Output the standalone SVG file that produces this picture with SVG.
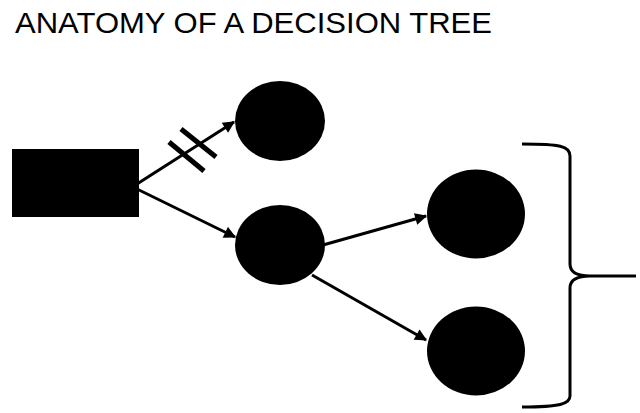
<svg xmlns="http://www.w3.org/2000/svg" width="640" height="413" viewBox="0 0 640 413">
<style>
.node{fill:#000}
.conn{stroke:#000;stroke-width:3;fill:none}
.title{font-family:"Liberation Sans",Arial,sans-serif;font-size:30px;fill:#000}
</style>
<defs>
<marker id="ah" viewBox="0 0 10 10" refX="9" refY="5" markerWidth="4.5" markerHeight="4" orient="auto" markerUnits="strokeWidth">
<path d="M0,0 L10,5 L0,10 z" fill="#000"/>
</marker>
</defs>
<rect width="640" height="413" fill="#fff"/>
<text class="title" x="15" y="33" textLength="477" lengthAdjust="spacingAndGlyphs">ANATOMY OF A DECISION TREE</text>
<g id="connectors">
<line class="conn" x1="137" y1="184" x2="234" y2="122" marker-end="url(#ah)"/>
<line class="conn" x1="137" y1="189" x2="235" y2="237" marker-end="url(#ah)"/>
<line class="conn" x1="323" y1="245" x2="426" y2="216" marker-end="url(#ah)"/>
<line class="conn" x1="312" y1="275" x2="426" y2="340" marker-end="url(#ah)"/>
<line x1="169" y1="142" x2="204" y2="171" stroke="#000" stroke-width="5"/>
<line x1="181" y1="129" x2="216" y2="157" stroke="#000" stroke-width="5"/>
</g>
<g id="root"><rect class="node" x="12" y="149" width="127" height="68"/></g>
<g id="n1"><ellipse class="node" cx="280" cy="121" rx="45" ry="40"/></g>
<g id="n2"><ellipse class="node" cx="280" cy="245" rx="45" ry="40"/></g>
<g id="n3"><ellipse class="node" cx="476" cy="214" rx="49" ry="44.5"/></g>
<g id="n4"><ellipse class="node" cx="476" cy="351" rx="49" ry="44.5"/></g>
<g id="brace">
<path class="conn" d="M522,144 C560,144 570,146 570,156 L570,264 C570,272 576,276 590,276 L636,276 M590,276 C576,276 570,280 570,288 L570,396 C570,404 560,407 522,407"/>
</g>
</svg>
